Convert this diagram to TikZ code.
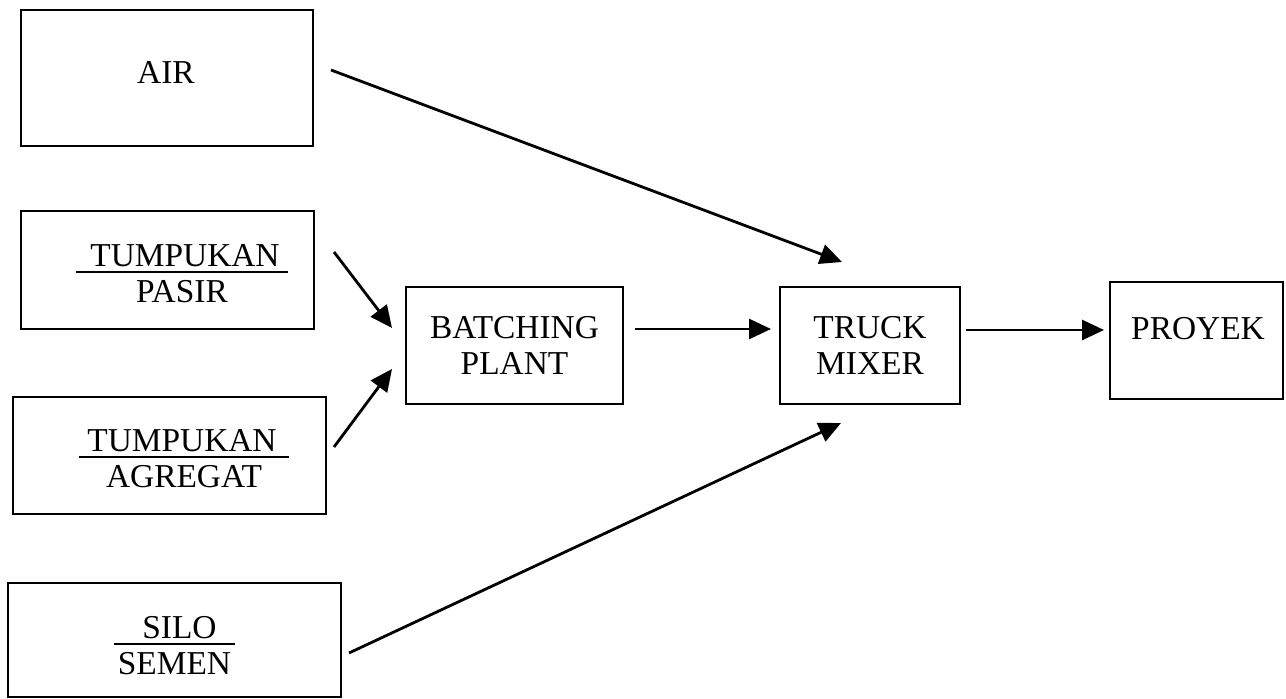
\documentclass[tikz,border=0pt]{standalone}
\usepackage{fontspec}
\setmainfont{Liberation Serif}
\usetikzlibrary{arrows.meta,calc}

\newsavebox\ulsave
\newcommand{\ulword}[3]{\sbox\ulsave{\hspace*{#1}#3\hspace*{#2}}\rlap{\rule[-3pt]{\wd\ulsave}{0.9pt}}\usebox\ulsave}

\tikzset{
  box/.style={draw, line width=1pt, inner sep=0pt},
  txt/.style={align=center, font=\fontsize{16.7}{18}\selectfont},
  flow/.style={-{Triangle[length=11pt,width=10pt]}, line width=1.4pt}
}

\begin{document}
\begin{tikzpicture}[x=0.5pt, y=-0.5pt]
  \fill[white] (0,0) rectangle (1286,699);
  \useasboundingbox (0,0) rectangle (1286,699);

  \node[box, minimum width=146pt, minimum height=68pt,
    label={[txt, xshift=-0.5pt, yshift=2.75pt]center:AIR}] (air) at (167,78) {};
  \node[box, minimum width=146.5pt, minimum height=59pt,
    label={[txt, xshift=7.25pt, yshift=-2pt]center:{\ulword{7pt}{4pt}{TUMPUKAN}\\PASIR}}] (pasir) at (167.5,270) {};
  \node[box, minimum width=156.5pt, minimum height=58.5pt,
    label={[txt, xshift=7.25pt, yshift=-1.75pt]center:{\ulword{4pt}{6pt}{TUMPUKAN}\\AGREGAT}}] (agregat) at (169.5,455.5) {};
  \node[box, minimum width=166.5pt, minimum height=57pt,
    label={[txt, xshift=0pt, yshift=-3pt]center:{\ulword{14pt}{9pt}{SILO}\\SEMEN}}] (semen) at (174.5,640) {};

  \node[box, txt, minimum width=108.5pt, minimum height=58.5pt] (batch) at (514.5,345.5) {BATCHING\\PLANT};
  \node[box, txt, minimum width=90pt, minimum height=58.5pt] (truck) at (870,345.5) {TRUCK\\MIXER};
  \node[box, minimum width=86.5pt, minimum height=58.5pt,
    label={[txt, xshift=0.75pt, yshift=5.75pt]center:PROYEK}] (proyek) at (1196.5,340.5) {};

  \draw[flow] ($(air.east)+(17,-8)$) -- ($(truck.north)+(-28,-24)$);
  \draw[flow] ($(pasir.east)+(19,-18)$) -- ($(batch.west)+(-13,-17.5)$);
  \draw[flow] ($(agregat.east)+(7,-8.5)$) -- ($(batch.west)+(-13,23.5)$);
  \draw[flow] ($(batch.east)+(11,-16.5)$) -- ($(truck.west)+(-8,-16.5)$);
  \draw[flow] ($(semen.east)+(7,13)$) -- ($(truck.south)+(-29,18)$);
  \draw[flow] ($(truck.east)+(5,-15.5)$) -- ($(proyek.west)+(-5,-10.5)$);
\end{tikzpicture}
\end{document}
